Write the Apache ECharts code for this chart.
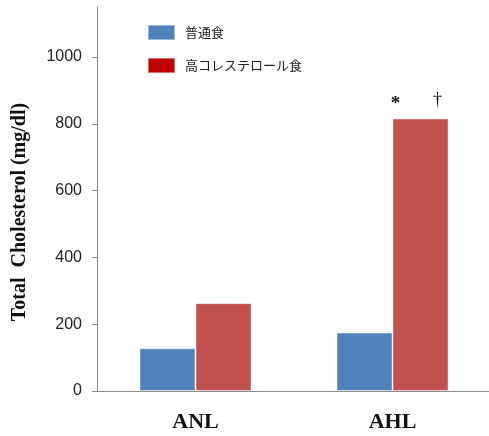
<!DOCTYPE html>
<html>
<head>
<meta charset="utf-8">
<style>
  html, body { margin: 0; padding: 0; background: #fff; overflow: hidden; }
  #chart { width: 491px; height: 436px; }
</style>
<script src="https://cdn.jsdelivr.net/npm/echarts@6/dist/echarts.min.js"></script>
</head>
<body>
<div id="chart"></div>
<script>
// Groups on the x axis
const groups = ['ANL', 'AHL'];
// Diet series names
const seriesNames = ['普通食', '高コレステロール食'];
// Total cholesterol (mg/dl) per group
const normalDiet = [128, 175];
const highCholDiet = [263, 816];
// Y axis ticks
const yTicks = [0, 200, 400, 600, 800, 1000];
const yMax = 1150;

const chart = echarts.init(document.getElementById('chart'), null, { renderer: 'canvas' });

const serifBold = '"Liberation Serif", "Times New Roman", serif';
const sans = '"Liberation Sans", Arial, sans-serif';
const cjk = '"Noto Sans CJK JP", "Noto Sans CJK SC", sans-serif';

chart.setOption({
  animation: false,
  backgroundColor: '#ffffff',
  grid: { left: 97, top: 7, bottom: 45, right: 0 },
  legend: {
    orient: 'vertical',
    left: 142,
    top: 19,
    itemWidth: 27,
    itemHeight: 15,
    itemGap: 16,
    icon: 'rect',
    textStyle: { fontFamily: cjk, fontSize: 13, color: '#222', padding: [0, 0, 0, 5] },
    data: [
      { name: seriesNames[0], itemStyle: { color: '#4F81BD' } },
      { name: seriesNames[1], itemStyle: { color: '#C00000' } }
    ]
  },
  xAxis: {
    type: 'category',
    data: groups,
    axisLine: { lineStyle: { color: '#8c8c8c', width: 1 } },
    axisTick: { show: false },
    axisLabel: { fontFamily: serifBold, fontWeight: 'bold', fontSize: 22, color: '#111', margin: 20 }
  },
  yAxis: {
    type: 'value',
    min: 0,
    max: yMax,
    interval: 200,
    splitLine: { show: false },
    axisLine: { show: true, lineStyle: { color: '#8c8c8c', width: 1 } },
    axisTick: { show: true, length: 5, lineStyle: { color: '#8c8c8c' }, customValues: yTicks },
    axisLabel: {
      fontFamily: sans, fontSize: 16, color: '#222', margin: 15,
      customValues: yTicks,
      formatter: v => String(v)
    }
  },
  graphic: [{
    type: 'text',
    x: 20,
    y: 212,
    rotation: Math.PI / 2,
    style: {
      text: 'Total  Cholesterol (mg/dl)',
      font: 'bold 20px ' + serifBold,
      fill: '#111',
      align: 'center',
      verticalAlign: 'middle'
    }
  }],
  series: [
    {
      name: seriesNames[0],
      type: 'bar',
      data: normalDiet,
      barWidth: 56,
      barGap: '0%',
      itemStyle: { color: '#4F81BD', borderColor: 'rgba(255,255,255,0.45)', borderWidth: 1 }
    },
    {
      name: seriesNames[1],
      type: 'bar',
      data: highCholDiet.map((v, i) => i === 1 ? {
        value: v,
        label: {
          show: true,
          position: 'top',
          distance: 5,
          offset: [-4, 0],
          formatter: '{s|*}{g|}{d|†}',
          rich: {
            s: { fontFamily: serifBold, fontWeight: 'bold', fontSize: 19, color: '#111', width: 10, align: 'center', padding: [7, 0, 0, 0] },
            g: { width: 32 },
            d: { fontFamily: serifBold, fontSize: 18, color: '#111', width: 10, align: 'center' }
          }
        }
      } : v),
      barWidth: 56,
      itemStyle: { color: '#C0504D', borderColor: 'rgba(255,255,255,0.45)', borderWidth: 1 }
    }
  ]
});
</script>
</body>
</html>
